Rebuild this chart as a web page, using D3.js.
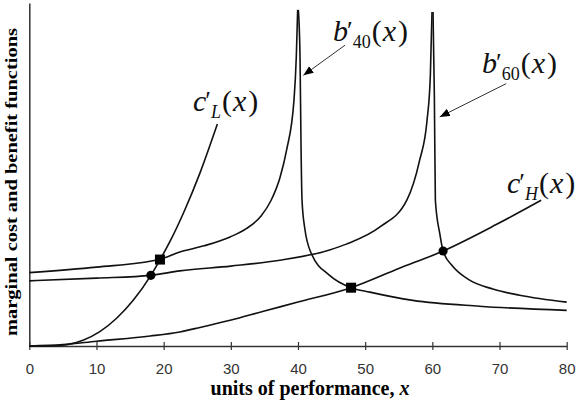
<!DOCTYPE html>
<html><head><meta charset="utf-8">
<script src="https://cdn.jsdelivr.net/npm/d3@7"></script>
<style>body{margin:0;background:#fff} svg{display:block}</style>
</head><body><svg id="c" width="582" height="404"></svg>
<script>
// ---- data (x = units of performance, y = arbitrary value units) ----
const xTicks = [0, 10, 20, 30, 40, 50, 60, 70, 80];

const b40LeftX  = [0, 10, 19.45, 22.4, 26, 29.9, 32.3, 34.5, 36, 37.3, 38.3, 39.4, 39.75, 39.95];
const b40LeftY  = [21.4, 23.0, 25.3, 27.4, 29.2, 31.8, 34.2, 37.9, 42.5, 49.0, 57.1, 71.6, 84.5, 98];
const b40RightX = [40.05, 40.3, 40.45, 40.6, 41.0, 42.0, 44.7, 47.9, 50.7, 57.1, 67, 80];
const b40RightY = [98, 84.5, 58.3, 42.5, 34.4, 26.9, 20.6, 17.0, 15.7, 13.3, 11.6, 10.4];

const b60LeftX  = [0, 10, 18.1, 22.4, 30, 37.3, 44.7, 47.2, 52.2, 56.2, 58.1, 59.2, 59.7, 59.95];
const b60LeftY  = [19.0, 19.8, 20.6, 21.9, 23.3, 25.0, 28.0, 29.7, 34.7, 42.5, 54.1, 65.6, 78.7, 97.4];
const b60RightX = [60.1, 60.3, 60.45, 61.1, 61.6, 63, 65.3, 69, 73, 80];
const b60RightY = [97.4, 72.9, 42.5, 32.8, 27.7, 23.3, 19.5, 16.6, 14.8, 12.8];

const cHX = [0, 5, 10, 18, 22.4, 25.4, 29.9, 35, 40, 47.9, 55, 61.6, 69.5, 76.2];
const cHY = [0, 0.4, 1.4, 2.9, 4.1, 5.4, 7.5, 10.2, 12.8, 17.0, 22.6, 27.7, 35.4, 42.5];

const cLX = [0, 3, 5.6, 8, 10.5, 13, 15.5, 18.1, 19.45, 21, 23, 25.4, 28];
const cLY = [0, 0, 0.4, 1.7, 4.2, 8.1, 13.4, 20.6, 25.1, 30.7, 39.0, 50.4, 64.7];

const squareX = [19.45, 47.9];
const squareY = [25.2, 17.0];
const circleX = [18.1, 61.6];
const circleY = [20.6, 27.7];

// ---- chart ----
const svg = d3.select("#c");
const x = d3.scaleLinear().domain([0, 80]).range([29.3, 566.7]);
const y = d3.scaleLinear().domain([0, 100]).range([346, 3]);
const SERIF = "'Liberation Serif','Times New Roman',Times,serif";
const SANS = "'Liberation Sans',Arial,Helvetica,sans-serif";

// axes
const xAxis = svg.append("g").attr("transform", `translate(0,${y(0)})`)
  .call(d3.axisBottom(x).tickValues(xTicks).tickSize(4).tickSizeOuter(0).tickPadding(13));
xAxis.select(".domain").attr("stroke", "#333").attr("stroke-width", 1.5);
xAxis.selectAll(".tick line").attr("y1", -4).attr("y2", 4).attr("stroke", "#333").attr("stroke-width", 1.2);
xAxis.selectAll(".tick text").attr("font-family", SANS).attr("font-size", 15).attr("fill", "#333");

const yAxis = svg.append("g").attr("transform", `translate(${x(0)},0)`)
  .call(d3.axisLeft(y).tickValues([]).tickSizeOuter(0));
yAxis.select(".domain").attr("stroke", "#333").attr("stroke-width", 1.5);

// axis titles
svg.append("text").attr("x", 310).attr("y", 395).attr("text-anchor", "middle")
  .attr("font-family", SERIF).attr("font-weight", "bold").attr("font-size", 20)
  .call(t => { t.append("tspan").text("units of performance, "); t.append("tspan").attr("font-style", "italic").text("x"); });

svg.append("text").attr("transform", "translate(16.5,182) rotate(-90)").attr("text-anchor", "middle")
  .attr("font-family", SERIF).attr("font-weight", "bold").attr("font-size", 16)
  .attr("textLength", 308).attr("lengthAdjust", "spacingAndGlyphs")
  .text("marginal cost and benefit functions");

// curves
const line = d3.line().x(d => x(d[0])).y(d => y(d[1])).curve(d3.curveMonotoneX);
const series = [
  [b40LeftX, b40LeftY], [b40RightX, b40RightY],
  [b60LeftX, b60LeftY], [b60RightX, b60RightY],
  [cHX, cHY], [cLX, cLY]
];
svg.append("g").selectAll("path").data(series).join("path")
  .attr("d", s => line(d3.zip(s[0], s[1])))
  .attr("fill", "none").attr("stroke", "#111").attr("stroke-width", 1.6);

// markers
svg.append("g").selectAll("rect").data(d3.zip(squareX, squareY)).join("rect")
  .attr("x", d => x(d[0]) - 5).attr("y", d => y(d[1]) - 5)
  .attr("width", 10).attr("height", 10).attr("fill", "#000");
svg.append("g").selectAll("circle").data(d3.zip(circleX, circleY)).join("circle")
  .attr("cx", d => x(d[0])).attr("cy", d => y(d[1])).attr("r", 4.6).attr("fill", "#000");

// arrows
const defs = svg.append("defs");
defs.append("marker").attr("id", "ah").attr("markerUnits", "userSpaceOnUse")
  .attr("markerWidth", 12).attr("markerHeight", 10).attr("refX", 10).attr("refY", 4)
  .attr("orient", "auto")
  .append("path").attr("d", "M0,0 L10,4 L0,8 Z").attr("fill", "#000");
const arrows = [
  [[47.0, 87.7], [40.8, 78.9]],
  [[71.0, 76.5], [61.1, 66.8]]
];
svg.append("g").selectAll("line").data(arrows).join("line")
  .attr("x1", d => x(d[0][0])).attr("y1", d => y(d[0][1]))
  .attr("x2", d => x(d[1][0])).attr("y2", d => y(d[1][1]))
  .attr("stroke", "#333").attr("stroke-width", 1).attr("marker-end", "url(#ah)");

// math labels
function mathLabel(px, py, letter, sub, subItalic) {
  const t = svg.append("text").attr("x", px).attr("y", py)
    .attr("font-family", SERIF).attr("font-size", 30).attr("fill", "#111");
  t.append("tspan").attr("font-style", "italic").text(letter);
  t.append("tspan").attr("dx", -1).attr("dy", -2).attr("font-size", 26).text("\u2032");
  t.append("tspan").attr("dx", 0).attr("dy", 9).attr("font-size", 18)
    .attr("font-style", subItalic ? "italic" : "normal").text(sub);
  t.append("tspan").attr("dx", 1).attr("dy", -7).text("(");
  t.append("tspan").attr("dx", 1).attr("font-style", "italic").text("x");
  t.append("tspan").attr("dx", 2).text(")");
}
mathLabel(333, 41, "b", "40", false);
mathLabel(482, 73, "b", "60", false);
mathLabel(193, 111, "c", "L", true);
mathLabel(507, 193, "c", "H", true);
</script></body></html>
